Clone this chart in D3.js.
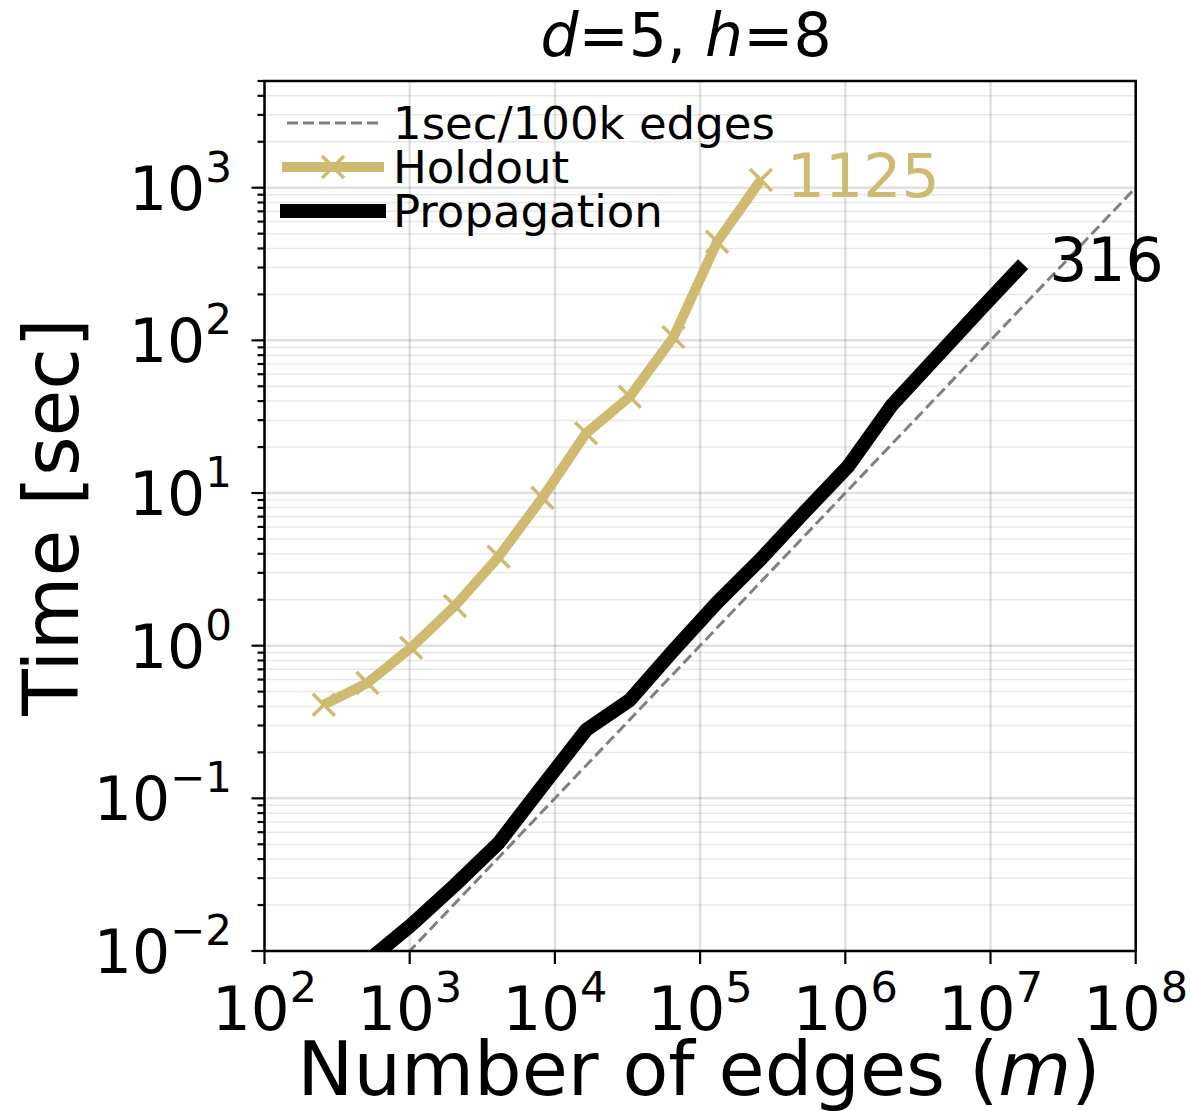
<!DOCTYPE html>
<meta charset="utf-8">
<style>
    body { margin: 0; background: #fff; }
    svg { font-family: "DejaVu Sans", sans-serif; }
    .grid-major { stroke: #000; stroke-opacity: 0.12; stroke-width: 2.5; }
    .grid-minor { stroke: #000; stroke-opacity: 0.09; stroke-width: 1.5; }
    .spine { stroke: #000; stroke-width: 2.5; fill: none; }
    .tick { stroke: #000; stroke-width: 2.2; }
</style>
<body>
<svg width="1191" height="1111"></svg>
</body>
<script src="https://d3js.org/d3.v7.min.js"></script>
<script>

    // edges (m) sampled as powers of two
    var holdoutEdges = [256, 512, 1024, 2048, 4096, 8192, 16384, 32768, 65536, 131072, 262144];
    var holdoutTime = [0.41, 0.57, 0.97, 1.82, 3.82, 9.3, 24.6, 42.7, 105, 442, 1125];

    var propEdges = [512, 1024, 2048, 4096, 8192, 16384, 32768, 65536, 131072, 262144, 524288,
        1048576, 2097152, 4194304, 8388608, 16777216];
    var propTime = [0.0086, 0.0148, 0.027, 0.051, 0.12, 0.28, 0.44, 0.93, 1.92, 3.7, 7.5,
        15, 37.7, 77, 157, 316];

    // reference line: 1 sec per 100k edges
    var refEdges = [1e2, 1e8];
    var refTime = refEdges.map(function (m) { return m / 1e5; });

    var xTicks = [1e2, 1e3, 1e4, 1e5, 1e6, 1e7, 1e8];
    var xTickExp = ["2", "3", "4", "5", "6", "7", "8"];
    var yTicks = [1e-2, 1e-1, 1e0, 1e1, 1e2, 1e3];
    var yTickExp = ["\u22122", "\u22121", "0", "1", "2", "3"];

    var gold = "#cfba72";

    var svg = d3.select("svg");
    var plotL = 264.5, plotR = 1135.7, plotT = 81, plotB = 951;

    var x = d3.scaleLog().domain([1e2, 1e8]).range([plotL, plotR]);
    var y = d3.scaleLog().domain([1e-2, 5000]).range([plotB, plotT]);

    // minor y ticks (2..9 per decade)
    var yMinor = [];
    for (var e = -2; e <= 3; e++) {
        for (var k = 2; k <= 9; k++) {
            var v = k * Math.pow(10, e);
            if (v <= 5000) yMinor.push(v);
        }
    }

    svg.append("defs").append("clipPath").attr("id", "plot")
        .append("rect")
        .attr("x", plotL).attr("y", plotT)
        .attr("width", plotR - plotL).attr("height", plotB - plotT);

    // grid
    var grid = svg.append("g");
    grid.selectAll(".hmin").data(yMinor).enter().append("line")
        .attr("class", "grid-minor")
        .attr("x1", plotL).attr("x2", plotR)
        .attr("y1", function (d) { return y(d); })
        .attr("y2", function (d) { return y(d); });
    grid.selectAll(".hmaj").data(yTicks).enter().append("line")
        .attr("class", "grid-major")
        .attr("x1", plotL).attr("x2", plotR)
        .attr("y1", function (d) { return y(d); })
        .attr("y2", function (d) { return y(d); });
    grid.selectAll(".vmaj").data(xTicks).enter().append("line")
        .attr("class", "grid-major")
        .attr("y1", plotT).attr("y2", plotB)
        .attr("x1", function (d) { return x(d); })
        .attr("x2", function (d) { return x(d); });

    var plot = svg.append("g").attr("clip-path", "url(#plot)");

    var line = d3.line()
        .x(function (d) { return x(d[0]); })
        .y(function (d) { return y(d[1]); });

    plot.append("path")
        .datum(d3.zip(refEdges, refTime))
        .attr("d", line)
        .attr("fill", "none")
        .attr("stroke", "#808080")
        .attr("stroke-width", 3)
        .attr("stroke-dasharray", "11,5");

    var holdout = d3.zip(holdoutEdges, holdoutTime);
    plot.append("path")
        .datum(holdout)
        .attr("d", line)
        .attr("fill", "none")
        .attr("stroke", gold)
        .attr("stroke-width", 10)
        .attr("stroke-linejoin", "round");

    var cross = "M-11,-11L11,11M-11,11L11,-11";
    plot.selectAll(".mk").data(holdout).enter().append("path")
        .attr("d", cross)
        .attr("transform", function (d) { return "translate(" + x(d[0]) + "," + y(d[1]) + ")"; })
        .attr("stroke", gold)
        .attr("stroke-width", 3.5)
        .attr("fill", "none");

    var prop = d3.zip(propEdges, propTime);
    plot.append("path")
        .datum(prop)
        .attr("d", line)
        .attr("fill", "none")
        .attr("stroke", "#000")
        .attr("stroke-width", 14)
        .attr("stroke-linejoin", "round");

    // end labels
    var lastH = holdout[holdout.length - 1];
    svg.append("text")
        .attr("x", x(lastH[0]) + 26)
        .attr("y", y(lastH[1]) + 17)
        .attr("font-size", 60)
        .attr("fill", gold)
        .text(lastH[1]);
    var lastP = prop[prop.length - 1];
    svg.append("text")
        .attr("x", x(lastP[0]) + 26)
        .attr("y", y(lastP[1]) + 17)
        .attr("font-size", 60)
        .attr("fill", "#000")
        .text(lastP[1]);

    // spines
    svg.append("rect")
        .attr("class", "spine")
        .attr("x", plotL).attr("y", plotT)
        .attr("width", plotR - plotL).attr("height", plotB - plotT);

    // x ticks
    svg.selectAll(".xt").data(xTicks).enter().append("line")
        .attr("class", "tick")
        .attr("x1", function (d) { return x(d); })
        .attr("x2", function (d) { return x(d); })
        .attr("y1", plotB).attr("y2", plotB + 13);
    var xl = svg.selectAll(".xl").data(xTicks).enter().append("text")
        .attr("x", function (d) { return x(d); })
        .attr("y", 1030)
        .attr("text-anchor", "middle")
        .attr("font-size", 61);
    xl.append("tspan").text("10");
    xl.append("tspan").attr("dy", -28).attr("font-size", 43)
        .text(function (d, i) { return xTickExp[i]; });

    // y ticks
    svg.selectAll(".yt").data(yTicks).enter().append("line")
        .attr("class", "tick")
        .attr("x1", plotL - 13).attr("x2", plotL)
        .attr("y1", function (d) { return y(d); })
        .attr("y2", function (d) { return y(d); });
    svg.selectAll(".ym").data(yMinor).enter().append("line")
        .attr("class", "tick")
        .attr("stroke-width", 1.8)
        .attr("x1", plotL - 7).attr("x2", plotL)
        .attr("y1", function (d) { return y(d); })
        .attr("y2", function (d) { return y(d); });
    var yl = svg.selectAll(".yl").data(yTicks).enter().append("text")
        .attr("x", 232)
        .attr("y", function (d) { return y(d) + 22; })
        .attr("text-anchor", "end")
        .attr("font-size", 60);
    yl.append("tspan").text("10");
    yl.append("tspan").attr("dy", -28).attr("font-size", 42)
        .text(function (d, i) { return yTickExp[i]; });

    // axis labels and title
    var xlab = svg.append("text")
        .attr("x", 699).attr("y", 1095)
        .attr("text-anchor", "middle")
        .attr("font-size", 75);
    xlab.append("tspan").text("Number of edges (");
    xlab.append("tspan").attr("font-style", "italic").text("m");
    xlab.append("tspan").text(")");

    svg.append("text")
        .attr("transform", "translate(78,517) rotate(-90)")
        .attr("text-anchor", "middle")
        .attr("font-size", 76)
        .text("Time [sec]");

    var title = svg.append("text")
        .attr("x", 686).attr("y", 56)
        .attr("text-anchor", "middle")
        .attr("font-size", 60);
    title.append("tspan").attr("font-style", "italic").text("d");
    title.append("tspan").text("=5, ");
    title.append("tspan").attr("font-style", "italic").text("h");
    title.append("tspan").text("=8");

    // legend
    var legendItems = ["1sec/100k edges", "Holdout", "Propagation"];
    var legendY = [123, 167, 211];
    var lg = svg.append("g");
    lg.append("line")
        .attr("x1", 287).attr("x2", 378)
        .attr("y1", legendY[0]).attr("y2", legendY[0])
        .attr("stroke", "#808080").attr("stroke-width", 3)
        .attr("stroke-dasharray", "11,5");
    lg.append("line")
        .attr("x1", 282).attr("x2", 384)
        .attr("y1", legendY[1]).attr("y2", legendY[1])
        .attr("stroke", gold).attr("stroke-width", 10);
    lg.append("path")
        .attr("d", cross)
        .attr("transform", "translate(333," + legendY[1] + ")")
        .attr("stroke", gold).attr("stroke-width", 3.5);
    lg.append("line")
        .attr("x1", 280).attr("x2", 386)
        .attr("y1", legendY[2]).attr("y2", legendY[2])
        .attr("stroke", "#000").attr("stroke-width", 14);
    lg.selectAll(".lt").data(legendItems).enter().append("text")
        .attr("x", 393)
        .attr("y", function (d, i) { return legendY[i] + 16; })
        .attr("font-size", 45)
        .text(function (d) { return d; });

</script>
